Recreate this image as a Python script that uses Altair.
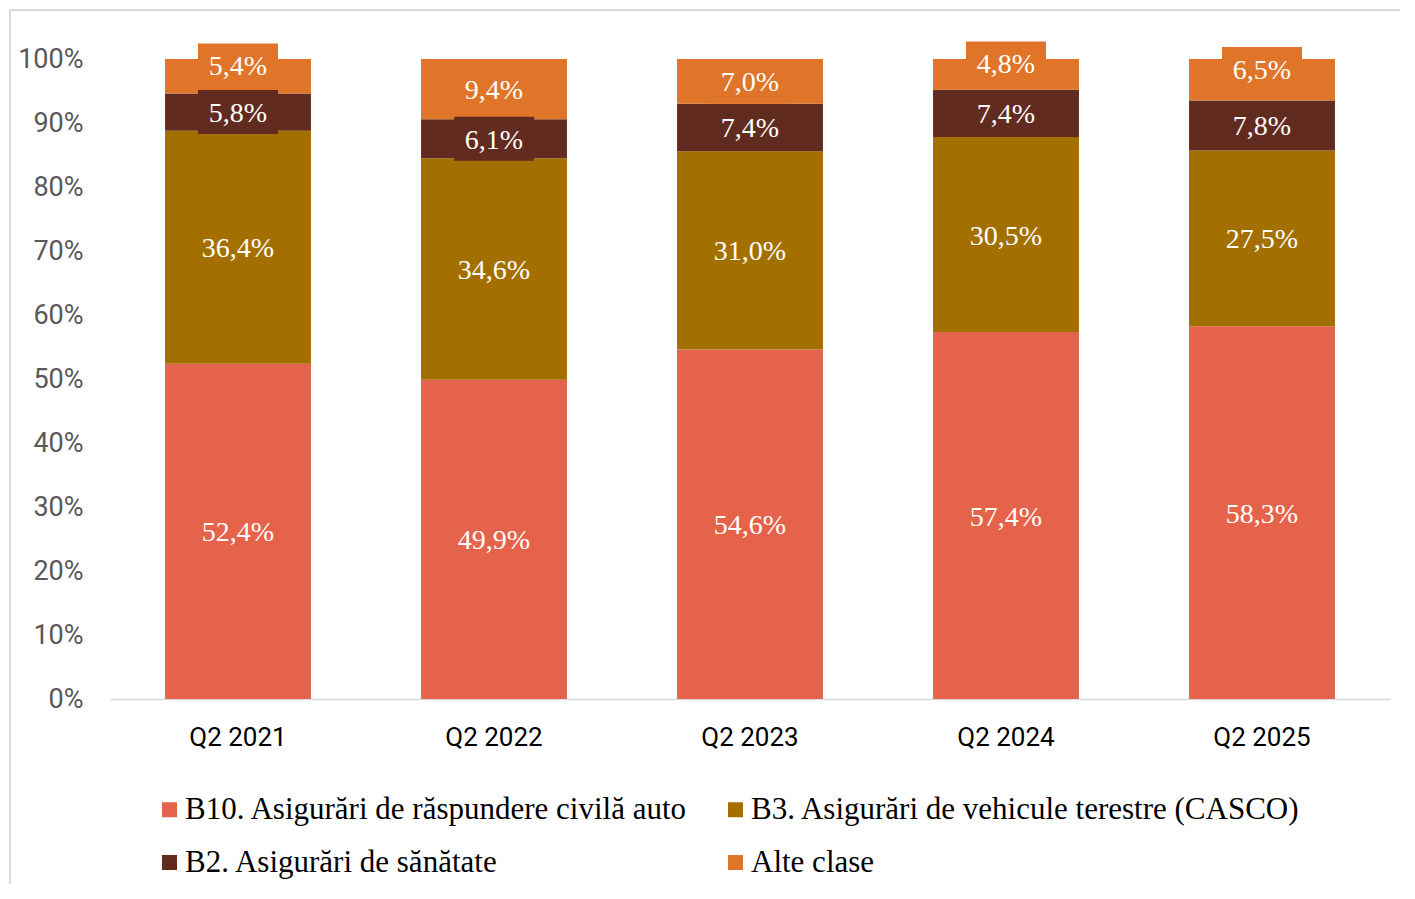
import altair as alt
import pandas as pd

quarters = ["Q2 2021", "Q2 2022", "Q2 2023", "Q2 2024", "Q2 2025"]
categories = [
    "B10. Asigurări de răspundere civilă auto",
    "B3. Asigurări de vehicule terestre (CASCO)",
    "B2. Asigurări de sănătate",
    "Alte clase",
]
b10 = [52.4, 49.9, 54.6, 57.4, 58.3]
b3 = [36.4, 34.6, 31.0, 30.5, 27.5]
b2 = [5.8, 6.1, 7.4, 7.4, 7.8]
alte = [5.4, 9.4, 7.0, 4.8, 6.5]
colors = ["#E5634A", "#A37000", "#622B20", "#E07428"]

rows = []
for ci, (cat, series) in enumerate(zip(categories, [b10, b3, b2, alte])):
    for q, v in zip(quarters, series):
        rows.append({"quarter": q, "category": cat, "value": v, "order": ci,
                     "label": f"{v:.1f}%".replace(".", ",")})
df = pd.DataFrame(rows)

color_scale = alt.Scale(domain=categories, range=colors)
x_enc = alt.X("quarter:N", sort=quarters, title=None,
              scale=alt.Scale(paddingInner=0.43, paddingOuter=0.215),
              axis=alt.Axis(labelAngle=0, ticks=False, tickSize=0, labelPadding=25,
                            domainColor="#D9D9D9", domainWidth=1.5,
                            labelFont="Roboto", labelFontSize=26, labelColor="#000000"))
y_scale = alt.Scale(domain=[0, 1], nice=False)

base = alt.Chart(df)

bars = base.mark_bar().encode(
    x=x_enc,
    y=alt.Y("value:Q", stack="normalize", scale=y_scale, title=None,
            axis=alt.Axis(values=[i / 10 for i in range(11)], format=".0%", grid=False,
                          domain=False, ticks=False, tickSize=0, labelPadding=27,
                          labelFont="Roboto", labelFontSize=27, labelColor="#595959")),
    color=alt.Color("category:N", scale=color_scale, title=None,
                    legend=alt.Legend(orient="none", legendX=44, legendY=735, columns=2,
                                      direction="horizontal",
                                      symbolType="square", symbolSize=225,
                                      symbolStrokeWidth=0, labelFont="Liberation Serif",
                                      labelFontSize=31, labelColor="#000000",
                                      labelOffset=0, columnPadding=32, rowPadding=21,
                                      padding=0, labelLimit=700)),
    order=alt.Order("order:Q", sort="ascending"),
)

stacked = base.transform_stack(
    stack="value", groupby=["quarter"], as_=["v0", "v1"], offset="normalize",
    sort=[alt.SortField("order", order="ascending")],
).transform_calculate(
    mid="(datum.v0 + datum.v1) / 2 + ((datum.order == 3 && datum.value < 7) ? 0.017 : 0)"
)

boxes = stacked.mark_point(
    shape="M-1,-0.55H1V0.55H-1Z", filled=True, size=6400, opacity=1, strokeWidth=0
).encode(
    x=alt.X("quarter:N", sort=quarters),
    y=alt.Y("mid:Q", scale=y_scale),
    color=alt.Color("category:N", scale=color_scale, legend=None),
)

texts = stacked.mark_text(
    font="Liberation Serif", fontSize=28, color="white", baseline="middle",
    align="center", dy=2
).encode(
    x=alt.X("quarter:N", sort=quarters),
    y=alt.Y("mid:Q", scale=y_scale),
    text="label:N",
)

frame_left = alt.Chart(df).mark_rule(color="#D9D9D9", strokeWidth=2).encode(
    x=alt.value(-100), y=alt.value(-49), y2=alt.value(845)
)
frame_top = alt.Chart(df).mark_rule(color="#D9D9D9", strokeWidth=2).encode(
    x=alt.value(-100), x2=alt.value(1310), y=alt.value(-49)
)

chart = alt.layer(bars, boxes, texts, frame_left, frame_top).properties(
    width=1280, height=640,
    autosize=alt.AutoSizeParams(type="none"),
    padding={"left": 102, "top": 51, "right": 10, "bottom": 185},
).configure(background="white").configure_view(stroke=None, strokeWidth=0)

chart.save("out.html", embed_options={"renderer": "svg", "actions": False})
